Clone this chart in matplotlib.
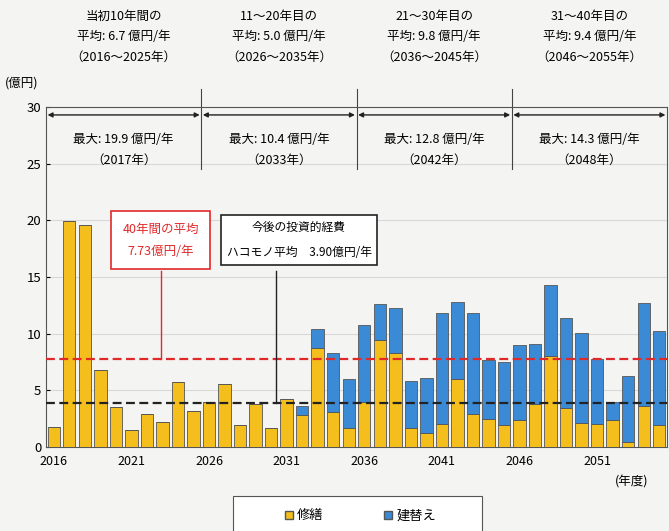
import matplotlib.pyplot as plt
from matplotlib.patches import Rectangle

plt.rcParams['font.family'] = ['Noto Sans CJK JP', 'DejaVu Sans']

# 年度 2016-2055
years = list(range(2016, 2056))
repair = [1.8, 19.9, 19.6, 6.8, 3.5, 1.5, 2.9, 2.2, 5.7, 3.2,
          4.0, 5.6, 1.9, 3.8, 1.7, 4.2, 2.8, 8.7, 3.1, 1.7,
          4.0, 9.4, 8.3, 1.7, 1.2, 2.0, 6.0, 2.9, 2.5, 1.9,
          2.4, 3.8, 8.0, 3.4, 2.1, 2.0, 2.4, 0.4, 3.6, 1.9]
total = [1.8, 19.9, 19.6, 6.8, 3.5, 1.5, 2.9, 2.2, 5.7, 3.2,
         4.0, 5.6, 1.9, 3.8, 1.7, 4.2, 3.6, 10.4, 8.3, 6.0,
         10.8, 12.6, 12.3, 5.8, 6.1, 11.8, 12.8, 11.8, 7.7, 7.5,
         9.0, 9.1, 14.3, 11.4, 10.1, 7.8, 4.0, 6.3, 12.7, 10.2]
rebuild = [t - r for t, r in zip(total, repair)]

avg_40 = 7.73
avg_box = 3.90

periods = [('当初10年間の', '平均: 6.7 億円/年', '（2016～2025年）'),
           ('11～20年目の', '平均: 5.0 億円/年', '（2026～2035年）'),
           ('21～30年目の', '平均: 9.8 億円/年', '（2036～2045年）'),
           ('31～40年目の', '平均: 9.4 億円/年', '（2046～2055年）')]
maxima = [('最大: 19.9 億円/年', '（2017年）'),
          ('最大: 10.4 億円/年', '（2033年）'),
          ('最大: 12.8 億円/年', '（2042年）'),
          ('最大: 14.3 億円/年', '（2048年）')]

yellow = '#f4bf1c'
blue = '#3b8ad6'
bg = '#f4f4f2'

fig = plt.figure(figsize=(6.69, 5.31), dpi=100, facecolor=bg)
ax = fig.add_axes([46 / 669, 1 - 447 / 531, 621 / 669, 340 / 531], facecolor=bg)

x = list(range(len(years)))
ax.bar(x, repair, width=0.8, color=yellow, edgecolor='#555555', linewidth=0.6, zorder=3)
ax.bar(x, rebuild, bottom=repair, width=0.8, color=blue, edgecolor='#555555', linewidth=0.6, zorder=3)

ax.axhline(avg_40, color='#e02a2a', linestyle=(0, (4, 2)), linewidth=1.6, zorder=4)
ax.axhline(avg_box, color='#222222', linestyle=(0, (4, 2)), linewidth=1.6, zorder=4)

ax.set_xlim(-0.5, len(years) - 0.5)
ax.set_ylim(0, 30)
ax.set_yticks(range(0, 31, 5))
ax.set_xticks(x[::5])
ax.set_xticklabels([str(y) for y in years[::5]])
ax.tick_params(axis='x', length=0, labelsize=9, pad=6)
ax.tick_params(axis='y', length=3, direction='in', labelsize=9.5)
for y in range(5, 30, 5):
    ax.axhline(y, color='#d8d8d8', linewidth=0.8, zorder=1)
for s in ax.spines.values():
    s.set_color('#555555')
    s.set_linewidth(0.8)

# period headers, arrows and separators
for i in range(4):
    left = i * 10 - 0.5
    right = left + 10
    cx = left + 5
    for line, yy in zip(periods[i], [38.0, 36.2, 34.4]):
        ax.text(cx, yy, line, ha='center', va='center', fontsize=9, clip_on=False)
    ax.text(cx, 27.1, maxima[i][0], ha='center', va='center', fontsize=9)
    ax.text(cx, 25.3, maxima[i][1], ha='center', va='center', fontsize=9)
    ax.annotate('', xy=(left + 0.1, 29.3), xytext=(right - 0.1, 29.3),
                arrowprops=dict(arrowstyle='<|-|>', color='#222222', lw=1.0,
                                mutation_scale=7, shrinkA=0, shrinkB=0))
    if i > 0:
        ax.plot([left, left], [24.5, 31.6], color='#444444', lw=0.8, clip_on=False)

# callout boxes
ax.text(6.9, 18.25, '40年間の平均\n7.73億円/年', ha='center', va='center', fontsize=9,
        color='#e02a2a', linespacing=1.9, zorder=5,
        bbox=dict(boxstyle='square,pad=0.9', fc='white', ec='#e02a2a', lw=1.2))
ax.plot([6.9, 6.9], [avg_40, 15.5], color='#e02a2a', lw=1.0, zorder=4)
ax.text(15.8, 18.3, '今後の投資的経費\nハコモノ平均　3.90億円/年', ha='center', va='center',
        fontsize=8.5, linespacing=2.2, zorder=5,
        bbox=dict(boxstyle='square,pad=0.5', fc='white', ec='#222222', lw=1.2))
ax.plot([14.33, 14.33], [avg_box, 15.5], color='#222222', lw=1.0, zorder=4)

fig.text(5 / 669, 1 - 83 / 531, '(億円)', ha='left', va='center', fontsize=9)
fig.text(632 / 669, 1 - 482 / 531, '(年度)', ha='center', va='center', fontsize=9)

# legend
fig.patches.append(Rectangle((233 / 669, -0.05), 249 / 669, 0.05 + 35 / 531,
                             transform=fig.transFigure, fc='white', ec='#555555', lw=0.8))
h1 = plt.Line2D([], [], marker='s', ls='', color=yellow, mec='#555555', markersize=6)
h2 = plt.Line2D([], [], marker='s', ls='', color=blue, mec='#555555', markersize=6)
fig.legend([h1, h2], ['修繕', '建替え'], ncol=2, frameon=False, fontsize=9.5,
           loc='center', bbox_to_anchor=(360 / 669, 1 - 516 / 531),
           handletextpad=0.2, columnspacing=4.5, handlelength=0.8)

fig.savefig('out.png', dpi=100, facecolor=bg)
